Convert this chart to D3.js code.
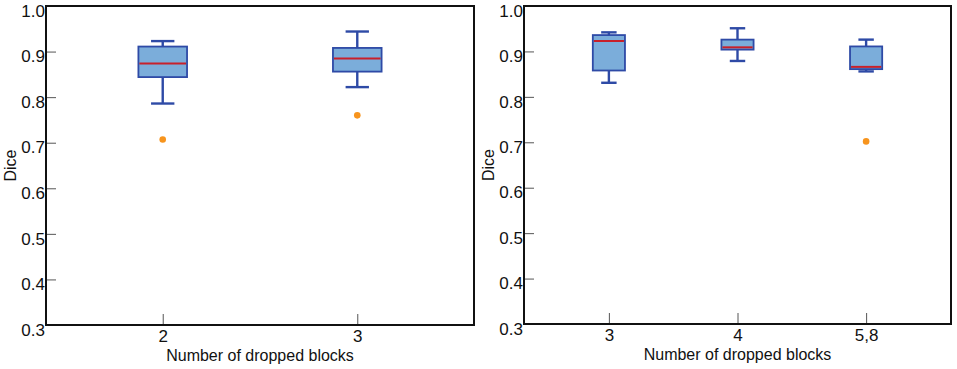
<!DOCTYPE html>
<html>
<head>
<meta charset="utf-8">
<script src="https://cdn.jsdelivr.net/npm/d3@7"></script>
<style>
  body { margin: 0; background: #fff; }
  svg { display: block; }
  text { font-family: "Liberation Sans", Arial, sans-serif; }
</style>
</head>
<body>
<svg id="chart" width="957" height="369"></svg>
<script>
// y axis ticks (shared)
const yTicks = [0.3, 0.4, 0.5, 0.6, 0.7, 0.8, 0.9, 1.0];

// left panel
const leftCats = ["2", "3"];
const leftLow = [0.786, 0.822];
const leftQ1 = [0.844, 0.856];
const leftMedian = [0.874, 0.885];
const leftQ3 = [0.911, 0.908];
const leftHigh = [0.923, 0.944];
const leftOutliers = [0.707, 0.760];

// right panel
const rightCats = ["3", "4", "5,8"];
const rightLow = [0.831, 0.879, 0.856];
const rightQ1 = [0.858, 0.904, 0.861];
const rightMedian = [0.923, 0.909, 0.866];
const rightQ3 = [0.936, 0.926, 0.911];
const rightHigh = [0.942, 0.951, 0.926];
const rightOutliers = [null, null, 0.702];

const boxFill = '#7badda';
const boxStroke = '#2e4aa6';
const medianColor = '#c8202a';
const outlierColor = '#f7941d';

const svg = d3.select('#chart');

function drawPanel(opts) {
  const { left, width, top, height, cats, low, q1, med, q3, high, outliers, padding } = opts;

  const g = svg.append('g').attr('transform', `translate(${left},${top})`);

  const y = d3.scaleLinear().domain([0.3, 1.0]).range([height, 0]);
  const x = d3.scalePoint().domain(cats).range([0, width]).padding(padding);
  const step = x.step();
  const boxW = step * 0.125;  // half width
  const capW = step * 0.06;

  // Y axis (ticks pointing inward)
  const yAxis = g.append('g')
    .call(d3.axisLeft(y).tickValues(yTicks).tickFormat(d3.format('.1f'))
      .tickSizeInner(-10).tickSizeOuter(0).tickPadding(1));
  yAxis.select('.domain').remove();
  yAxis.selectAll('.tick line').attr('stroke', '#555').attr('stroke-width', 1);
  yAxis.selectAll('.tick text')
    .attr('dy', '0.6em')
    .style('font-size', '17px')
    .attr('fill', '#111');

  // X axis (ticks pointing inward)
  const xAxis = g.append('g')
    .attr('transform', `translate(0,${height})`)
    .call(d3.axisBottom(x).tickSizeInner(-11).tickSizeOuter(0).tickPadding(0));
  xAxis.select('.domain').remove();
  xAxis.selectAll('.tick line').attr('stroke', '#555').attr('stroke-width', 1);
  xAxis.selectAll('.tick text')
    .attr('y', 17)
    .attr('dy', 0)
    .style('font-size', '17px')
    .attr('fill', '#111');

  // frame
  g.append('rect')
    .attr('x', 0).attr('y', 0)
    .attr('width', width).attr('height', height)
    .attr('fill', 'none')
    .attr('stroke', '#111')
    .attr('stroke-width', 2);

  const data = cats.map((c, i) => ({
    c, low: low[i], q1: q1[i], med: med[i], q3: q3[i], high: high[i], out: outliers[i]
  }));

  const boxes = g.selectAll('.box').data(data).enter().append('g')
    .attr('class', 'box')
    .attr('transform', d => `translate(${x(d.c)},0)`);

  // whiskers
  boxes.append('line')
    .attr('x1', 0).attr('x2', 0)
    .attr('y1', d => y(d.high)).attr('y2', d => y(d.q3))
    .attr('stroke', boxStroke).attr('stroke-width', 2.4);
  boxes.append('line')
    .attr('x1', 0).attr('x2', 0)
    .attr('y1', d => y(d.q1)).attr('y2', d => y(d.low))
    .attr('stroke', boxStroke).attr('stroke-width', 2.4);
  boxes.append('line')
    .attr('x1', -capW).attr('x2', capW)
    .attr('y1', d => y(d.high)).attr('y2', d => y(d.high))
    .attr('stroke', boxStroke).attr('stroke-width', 2.4);
  boxes.append('line')
    .attr('x1', -capW).attr('x2', capW)
    .attr('y1', d => y(d.low)).attr('y2', d => y(d.low))
    .attr('stroke', boxStroke).attr('stroke-width', 2.4);

  // box
  boxes.append('rect')
    .attr('x', -boxW)
    .attr('width', boxW * 2)
    .attr('y', d => y(d.q3))
    .attr('height', d => y(d.q1) - y(d.q3))
    .attr('fill', boxFill)
    .attr('stroke', boxStroke)
    .attr('stroke-width', 1.8);

  // median
  boxes.append('line')
    .attr('x1', -boxW + 1).attr('x2', boxW - 1)
    .attr('y1', d => y(d.med)).attr('y2', d => y(d.med))
    .attr('stroke', medianColor).attr('stroke-width', 2);

  // outliers
  boxes.filter(d => d.out != null).append('circle')
    .attr('cx', 0)
    .attr('cy', d => y(d.out))
    .attr('r', 3.3)
    .attr('fill', outlierColor);

  // axis titles
  g.append('text')
    .attr('x', width / 2)
    .attr('y', height + 36)
    .attr('text-anchor', 'middle')
    .style('font-size', '16px')
    .attr('fill', '#111')
    .text('Number of dropped blocks');

  g.append('text')
    .attr('transform', `translate(${-30},${height / 2}) rotate(-90)`)
    .attr('text-anchor', 'middle')
    .style('font-size', '16px')
    .attr('fill', '#111')
    .text('Dice');
}

drawPanel({
  left: 46, width: 428, top: 6, height: 319,
  cats: leftCats, low: leftLow, q1: leftQ1, med: leftMedian, q3: leftQ3,
  high: leftHigh, outliers: leftOutliers, padding: 0.6
});

drawPanel({
  left: 524, width: 427, top: 6, height: 318,
  cats: rightCats, low: rightLow, q1: rightQ1, med: rightMedian, q3: rightQ3,
  high: rightHigh, outliers: rightOutliers, padding: 0.66
});
</script>
</body>
</html>
